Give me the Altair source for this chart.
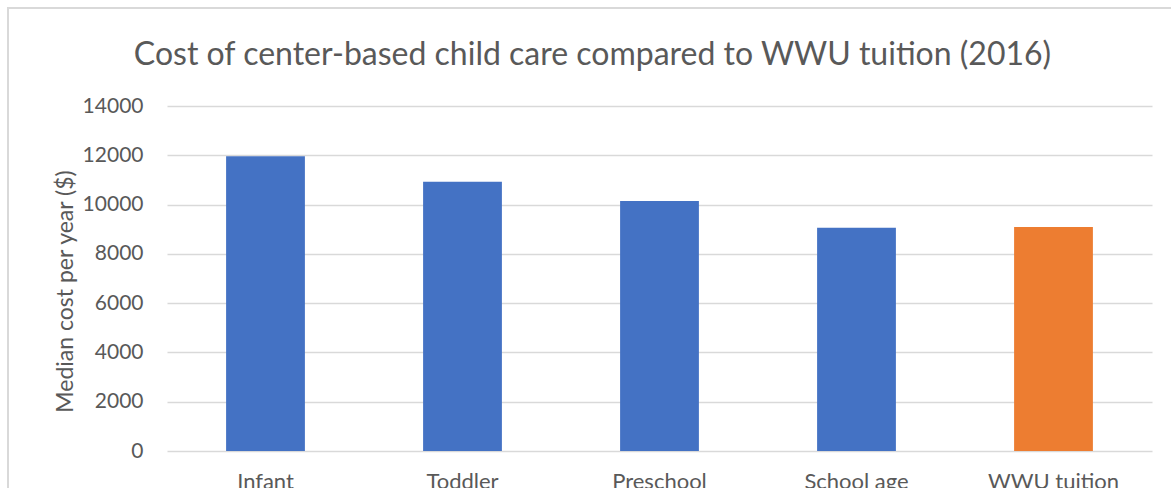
import altair as alt
import pandas as pd

categories = ["Infant", "Toddler", "Preschool", "School age", "WWU tuition"]
values = [11960, 10930, 10140, 9060, 9090]
colors = ["#4472C4", "#4472C4", "#4472C4", "#4472C4", "#ED7D31"]

df = pd.DataFrame({"category": categories, "cost": values, "color": colors})

FONT = "Lato"
TXT = "#595959"

bars = alt.Chart(df).mark_bar().encode(
    x=alt.X("category:N", sort=categories, title=None,
            scale=alt.Scale(paddingInner=0.6, paddingOuter=0.3),
            axis=alt.Axis(labelAngle=0, labelFont=FONT, labelFontSize=22, labelColor=TXT,
                          labelPadding=20, ticks=False, domain=False, grid=False)),
    y=alt.Y("cost:Q", title="Median cost per year ($)",
            scale=alt.Scale(domain=[0, 14000]),
            axis=alt.Axis(values=list(range(0, 14001, 2000)), format="d",
                          labelFont=FONT, labelFontSize=21, labelColor=TXT, labelPadding=24,
                          ticks=False, domain=False, gridColor="#D9D9D9", gridWidth=1.3,
                          titleFont=FONT, titleFontSize=23, titleColor=TXT, titleFontWeight="normal",
                          titlePadding=5, titleY=185)),
    color=alt.Color("color:N", scale=None, legend=None),
)

frame = alt.Chart(df).mark_rect(filled=False, stroke="#D9D9D9", strokeWidth=1.5).encode(
    x=alt.value(-159), x2=alt.value(1020), y=alt.value(-98), y2=alt.value(420)
)

chart = alt.layer(frame, bars).properties(
    width=985, height=345,
    title=alt.TitleParams("Cost of center-based child care compared to WWU tuition (2016)",
                          font=FONT, fontSize=32, color=TXT, fontWeight="normal",
                          anchor="middle", frame="group", baseline="alphabetic",
                          dx=-67, offset=0, dy=90),
    autosize=alt.AutoSizeParams(type="none"),
    padding={"left": 167, "top": 106, "right": 19, "bottom": 37},
).configure_view(stroke=None)

chart.save("out.html", embed_options={"renderer": "svg", "actions": False})
